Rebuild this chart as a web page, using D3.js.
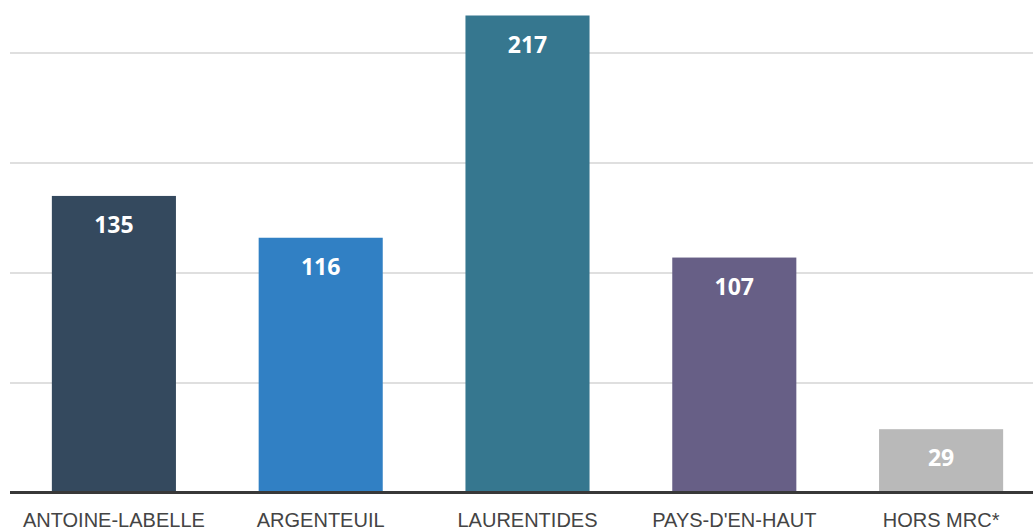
<!DOCTYPE html>
<html>
    <head>
        <title></title>
        <style>
            body { margin: 0; background: #fff; }
            svg { display: block; }
        </style>
    </head>
    <body>
        <script src="https://cdnjs.cloudflare.com/ajax/libs/d3/7.8.5/d3.min.js"></script>
        <script>

        var w = 1033;
        var h = 531;

        var categories = ["ANTOINE-LABELLE", "ARGENTEUIL", "LAURENTIDES", "PAYS-D'EN-HAUT", "HORS MRC*"];
        var values = [135, 116, 217, 107, 29];
        var colors = ["#34495e", "#3180c4", "#36778f", "#675f86", "#b9b9b9"];
        var gridTicks = [50, 100, 150, 200];

        var xScale = d3.scaleBand()
                       .domain(categories)
                       .range([10.5, 1044.5])
                       .paddingInner(0.4)
                       .paddingOuter(0.2);

        var yScale = d3.scaleLinear()
                       .domain([0, 217])
                       .range([493, 15.5]);

        var svg = d3.select("body")
                    .append("svg")
                    .attr("width", w)
                    .attr("height", h);

        // gridlines
        svg.selectAll("line.grid")
            .data(gridTicks)
            .enter()
            .append("line")
            .attr("class", "grid")
            .attr("x1", 10)
            .attr("x2", w)
            .attr("y1", function(d) { return yScale(d); })
            .attr("y2", function(d) { return yScale(d); })
            .attr("stroke", "#d4d4d4")
            .attr("stroke-width", 1.5);

        // bars
        svg.selectAll("rect")
            .data(values)
            .enter()
            .append("rect")
            .attr("x", function(d, i) { return xScale(categories[i]); })
            .attr("y", function(d) { return yScale(d); })
            .attr("width", xScale.bandwidth())
            .attr("height", function(d) { return yScale(0) - yScale(d); })
            .attr("fill", function(d, i) { return colors[i]; });

        // value labels
        svg.selectAll("text.val")
            .data(values)
            .enter()
            .append("text")
            .attr("class", "val")
            .text(function(d) { return d; })
            .attr("x", function(d, i) { return xScale(categories[i]) + xScale.bandwidth() / 2; })
            .attr("y", function(d) { return yScale(d) + 37; })
            .attr("font-family", "'Open Sans', sans-serif")
            .attr("font-weight", "bold")
            .attr("font-size", "23px")
            .attr("fill", "white")
            .attr("text-anchor", "middle");

        // baseline axis
        svg.append("line")
            .attr("x1", 10)
            .attr("x2", w)
            .attr("y1", 492.5)
            .attr("y2", 492.5)
            .attr("stroke", "#383838")
            .attr("stroke-width", 3);

        // category labels
        svg.selectAll("text.cat")
            .data(categories)
            .enter()
            .append("text")
            .attr("class", "cat")
            .text(function(d) { return d; })
            .attr("x", function(d) { return xScale(d) + xScale.bandwidth() / 2; })
            .attr("y", 527)
            .attr("font-family", "'Liberation Sans', Arial, sans-serif")
            .attr("font-size", "20px")
            .attr("fill", "#444")
            .attr("text-anchor", "middle");

        </script>
    </body>
</html>
